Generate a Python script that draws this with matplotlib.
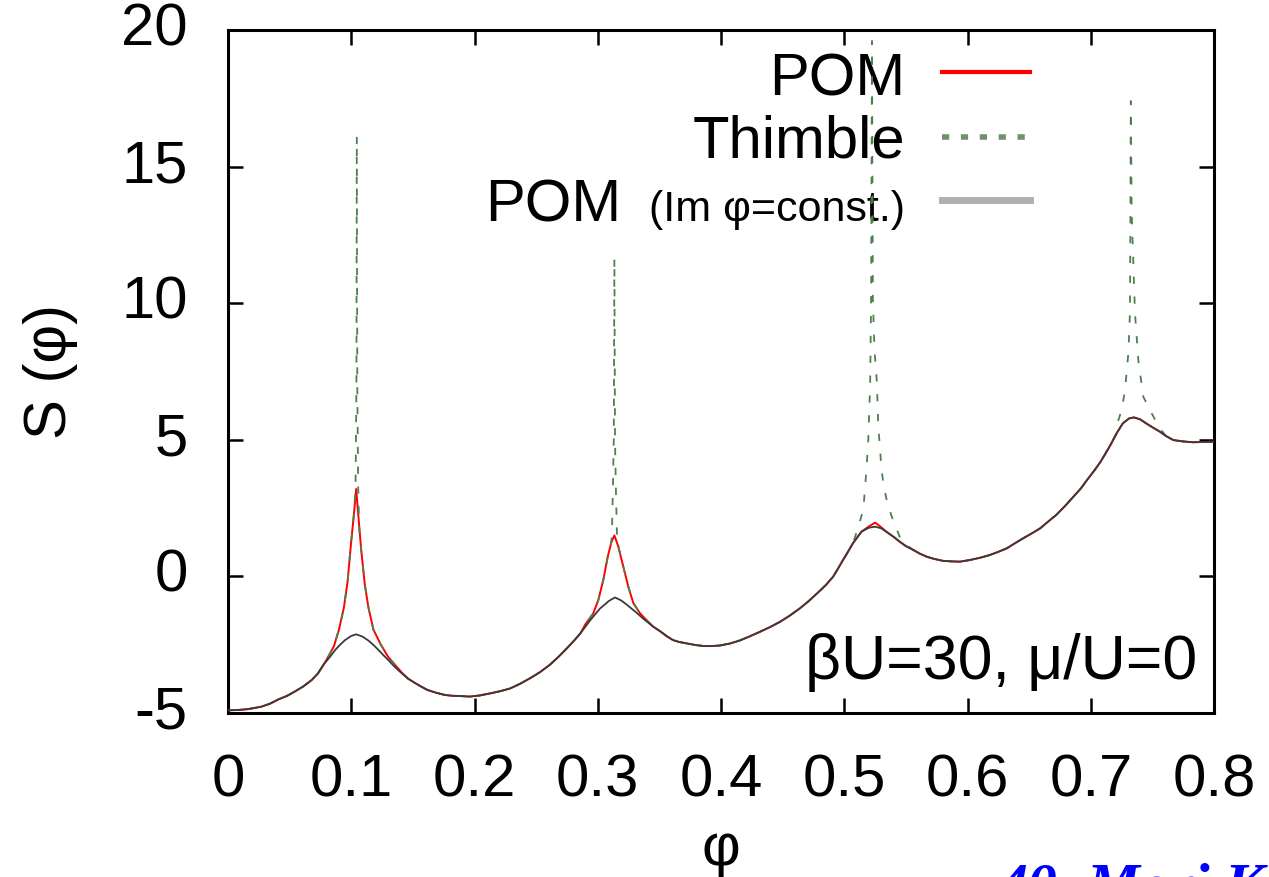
import matplotlib
matplotlib.use("Agg")
import matplotlib.pyplot as plt
from matplotlib.lines import Line2D

plt.rcParams['font.family'] = ['Liberation Sans', 'DejaVu Sans']
plt.rcParams['axes.unicode_minus'] = False

# ---- data ----
# smooth curve: POM (Im phi = const.)
phi_base = [0.000, 0.008, 0.016, 0.027, 0.034, 0.041, 0.048, 0.054, 0.061, 0.068,
            0.073, 0.078, 0.083, 0.087, 0.091, 0.095, 0.100,
            0.104, 0.109, 0.114, 0.118, 0.122, 0.126, 0.130, 0.135, 0.141, 0.146,
            0.152, 0.157, 0.162, 0.169, 0.176, 0.182, 0.189,
            0.196, 0.204, 0.213, 0.221, 0.229, 0.237, 0.245, 0.253, 0.261, 0.268,
            0.275, 0.281, 0.286, 0.290, 0.294, 0.298, 0.302, 0.309,
            0.314, 0.319, 0.324, 0.328, 0.332, 0.336, 0.340, 0.345, 0.351, 0.356,
            0.361, 0.366, 0.372, 0.379, 0.386, 0.392, 0.399,
            0.407, 0.415, 0.423, 0.432, 0.440, 0.448, 0.456, 0.464, 0.471, 0.478,
            0.485, 0.491, 0.495, 0.499, 0.503, 0.507, 0.514, 0.520,
            0.525, 0.530, 0.534, 0.540, 0.545, 0.550, 0.556, 0.561, 0.567, 0.573,
            0.580, 0.587, 0.594, 0.602, 0.610, 0.618, 0.625,
            0.632, 0.638, 0.645, 0.652, 0.659, 0.665, 0.672, 0.679, 0.686, 0.692,
            0.697, 0.703, 0.708, 0.712, 0.716, 0.721, 0.726,
            0.731, 0.735, 0.740, 0.745, 0.750, 0.756, 0.761, 0.767, 0.775, 0.783,
            0.791, 0.800]
S_base = [-4.90, -4.89, -4.86, -4.77, -4.66, -4.50, -4.37, -4.22, -4.03, -3.79,
          -3.55, -3.20, -2.93, -2.69, -2.50, -2.33, -2.18,
          -2.12, -2.20, -2.35, -2.51, -2.69, -2.88, -3.06, -3.30, -3.55, -3.74,
          -3.91, -4.04, -4.16, -4.26, -4.34, -4.37, -4.38,
          -4.40, -4.36, -4.28, -4.20, -4.10, -3.93, -3.73, -3.51, -3.24, -2.95,
          -2.63, -2.34, -2.08, -1.84, -1.60, -1.38, -1.17, -0.90,
          -0.77, -0.88, -1.05, -1.20, -1.35, -1.51, -1.66, -1.84, -2.02, -2.19,
          -2.33, -2.40, -2.45, -2.51, -2.55, -2.55, -2.53,
          -2.46, -2.35, -2.20, -2.02, -1.85, -1.66, -1.43, -1.17, -0.91, -0.62,
          -0.32, -0.01, 0.29, 0.60, 0.90, 1.21, 1.64, 1.78,
          1.82, 1.76, 1.64, 1.45, 1.27, 1.11, 0.97, 0.84, 0.72, 0.64,
          0.57, 0.55, 0.54, 0.60, 0.68, 0.78, 0.90,
          1.03, 1.20, 1.39, 1.57, 1.76, 1.99, 2.25, 2.57, 2.92, 3.22,
          3.53, 3.88, 4.20, 4.50, 4.81, 5.24, 5.60,
          5.78, 5.82, 5.75, 5.60, 5.46, 5.30, 5.14, 4.99, 4.94, 4.91,
          4.92, 4.93]

# POM: sharper cusps at the peaks
pom_pk1_phi = [0.080, 0.086, 0.090, 0.094, 0.097, 0.100, 0.102, 0.104, 0.106, 0.108,
               0.111, 0.114, 0.118, 0.124, 0.130, 0.141]
pom_pk1_S = [-3.05, -2.55, -1.95, -1.15, -0.20, 1.30, 2.20, 3.20, 2.10, 1.00,
             -0.30, -1.15, -1.95, -2.50, -2.95, -3.52]
pom_pk2_phi = [0.290, 0.2964, 0.3005, 0.3045, 0.308, 0.311, 0.3135, 0.3167, 0.3207,
               0.3248, 0.3289, 0.3343, 0.340]
pom_pk2_S = [-1.75, -1.35, -0.86, -0.13, 0.70, 1.25, 1.50, 1.09, 0.36,
             -0.38, -0.98, -1.35, -1.62]
pom_pk3_phi = [0.520, 0.525, 0.530]
pom_pk3_S = [1.83, 1.97, 1.80]

# Thimble: spikes on top of the POM curve
thb_sp1_phi = [0.1025, 0.1035, 0.1042, 0.1045, 0.1049, 0.1056, 0.1065]
thb_sp1_S = [2.5, 3.3, 7.0, 16.1, 7.0, 3.3, 1.7]
thb_sp2_phi = [0.3115, 0.3122, 0.3130, 0.3135, 0.3140, 0.3148, 0.3158]
thb_sp2_S = [1.6, 3.0, 5.0, 11.65, 5.0, 3.0, 1.2]
thb_sp3_phi = [0.511, 0.5155, 0.517, 0.518, 0.5195, 0.521, 0.5218, 0.5222, 0.5225,
               0.5228, 0.5232, 0.5245, 0.5265, 0.5276, 0.529, 0.530, 0.5317,
               0.5344, 0.5385, 0.545, 0.550]
thb_sp3_S = [1.75, 2.45, 3.3, 3.9, 5.0, 7.0, 10.2, 15.1, 19.6,
             15.1, 10.2, 8.3, 7.1, 5.5, 4.7, 4.02, 3.41,
             2.8, 2.19, 1.45, 1.15]
thb_sp4_phi = [0.7211, 0.7251, 0.7278, 0.7305, 0.7318, 0.7322, 0.7325, 0.7332,
               0.7359, 0.7386, 0.7426, 0.7494, 0.756]
thb_sp4_S = [5.54, 6.09, 6.82, 8.17, 9.63, 13.3, 17.4, 13.3,
             9.63, 7.92, 6.58, 5.97, 5.42]

x_ticks = [0, 0.1, 0.2, 0.3, 0.4, 0.5, 0.6, 0.7, 0.8]
x_ticklabels = ['0', '0.1', '0.2', '0.3', '0.4', '0.5', '0.6', '0.7', '0.8']
y_ticks = [-5, 0, 5, 10, 15, 20]
y_ticklabels = ['-5', '0', '5', '10', '15', '20']


def merge(bx, by, sx, sy):
    lo, hi = min(sx), max(sx)
    pts = [(a, b) for a, b in zip(bx, by) if a < lo or a > hi] + list(zip(sx, sy))
    pts.sort()
    return [p[0] for p in pts], [p[1] for p in pts]


pom_x, pom_y = phi_base, S_base
for sx, sy in [(pom_pk1_phi, pom_pk1_S), (pom_pk2_phi, pom_pk2_S), (pom_pk3_phi, pom_pk3_S)]:
    pom_x, pom_y = merge(pom_x, pom_y, sx, sy)
thb_x, thb_y = pom_x, pom_y
for sx, sy in [(thb_sp1_phi, thb_sp1_S), (thb_sp2_phi, thb_sp2_S),
               (thb_sp3_phi, thb_sp3_S), (thb_sp4_phi, thb_sp4_S)]:
    thb_x, thb_y = merge(thb_x, thb_y, sx, sy)

# ---- figure ----
W, H = 1269, 877
fig = plt.figure(figsize=(W / 100, H / 100), dpi=100)
L, R, T, B = 228, 1214, 30, 713
ax = fig.add_axes([L / W, 1 - B / H, (R - L) / W, (B - T) / H])

FS = 43
red = '#ff0000'
green = '#4f7f4f'
gray_line = '#3a3a3a'

ax.plot(pom_x, pom_y, color=red, lw=1.4, zorder=3)
ax.plot(thb_x, thb_y, color=green, lw=1.3, linestyle=(0, (4.0, 7.0)), zorder=4)
ax.plot(phi_base, S_base, color=gray_line, lw=1.3, zorder=5)

ax.set_xlim(0, 0.8)
ax.set_ylim(-5, 20)
ax.set_xticks(x_ticks)
ax.set_xticklabels(x_ticklabels)
ax.set_yticks(y_ticks)
ax.set_yticklabels(y_ticklabels)
ax.tick_params(direction='in', length=11, width=1.8, top=True, right=True,
               labelsize=FS, colors='black')
ax.tick_params(axis='x', pad=29)
ax.tick_params(axis='y', pad=29)
for lab in ax.get_yticklabels():
    lab.set_va('center')
for s in ax.spines.values():
    s.set_linewidth(2.2)

ax.set_xlabel('φ', fontsize=FS)
ax.xaxis.set_label_coords(0.5, -0.160)
ax.set_ylabel('S (φ)', fontsize=FS)
ax.yaxis.set_label_coords(-0.152, 0.5)

# parameter annotation
ax.text(0.983, 0.050, 'βU=30, μ/U=0', transform=ax.transAxes, ha='right',
        va='baseline', fontsize=45)

# manual legend
def ax_x(px):
    return (px - L) / (R - L)

def ax_y(py):
    return (B - py) / (B - T)

tx = ax_x(905)
lx0, lx1 = ax_x(942), ax_x(1030)
ax.text(tx, ax_y(95), 'POM', transform=ax.transAxes, ha='right', va='baseline', fontsize=FS)
ax.text(tx, ax_y(157), 'Thimble', transform=ax.transAxes, ha='right', va='baseline', fontsize=FS)
ax.text(tx, ax_y(221), '(Im φ=const.)', transform=ax.transAxes, ha='right', va='baseline', fontsize=31)
ax.text(ax_x(621), ax_y(221), 'POM', transform=ax.transAxes, ha='right', va='baseline', fontsize=FS)
ax.add_line(Line2D([lx0, lx1], [ax_y(72), ax_y(72)], transform=ax.transAxes,
                   color=red, lw=3, clip_on=False))
ax.add_line(Line2D([lx0, lx1], [ax_y(137), ax_y(137)], transform=ax.transAxes,
                   color='#6f916f', lw=4, linestyle=(0, (1.3, 2.1)), clip_on=False))
ax.add_line(Line2D([lx0, lx1], [ax_y(200), ax_y(200)], transform=ax.transAxes,
                   color='#b0b0b0', lw=5, clip_on=False))

# footer text, cut off by the bottom edge as in the reference
fig.text(998 / W, 1 - 903 / H, '40. Mori K', color='#0000ff', fontsize=43,
         family='Liberation Serif', style='italic', weight='bold', va='baseline', ha='left')

fig.savefig('out.png', dpi=100)
